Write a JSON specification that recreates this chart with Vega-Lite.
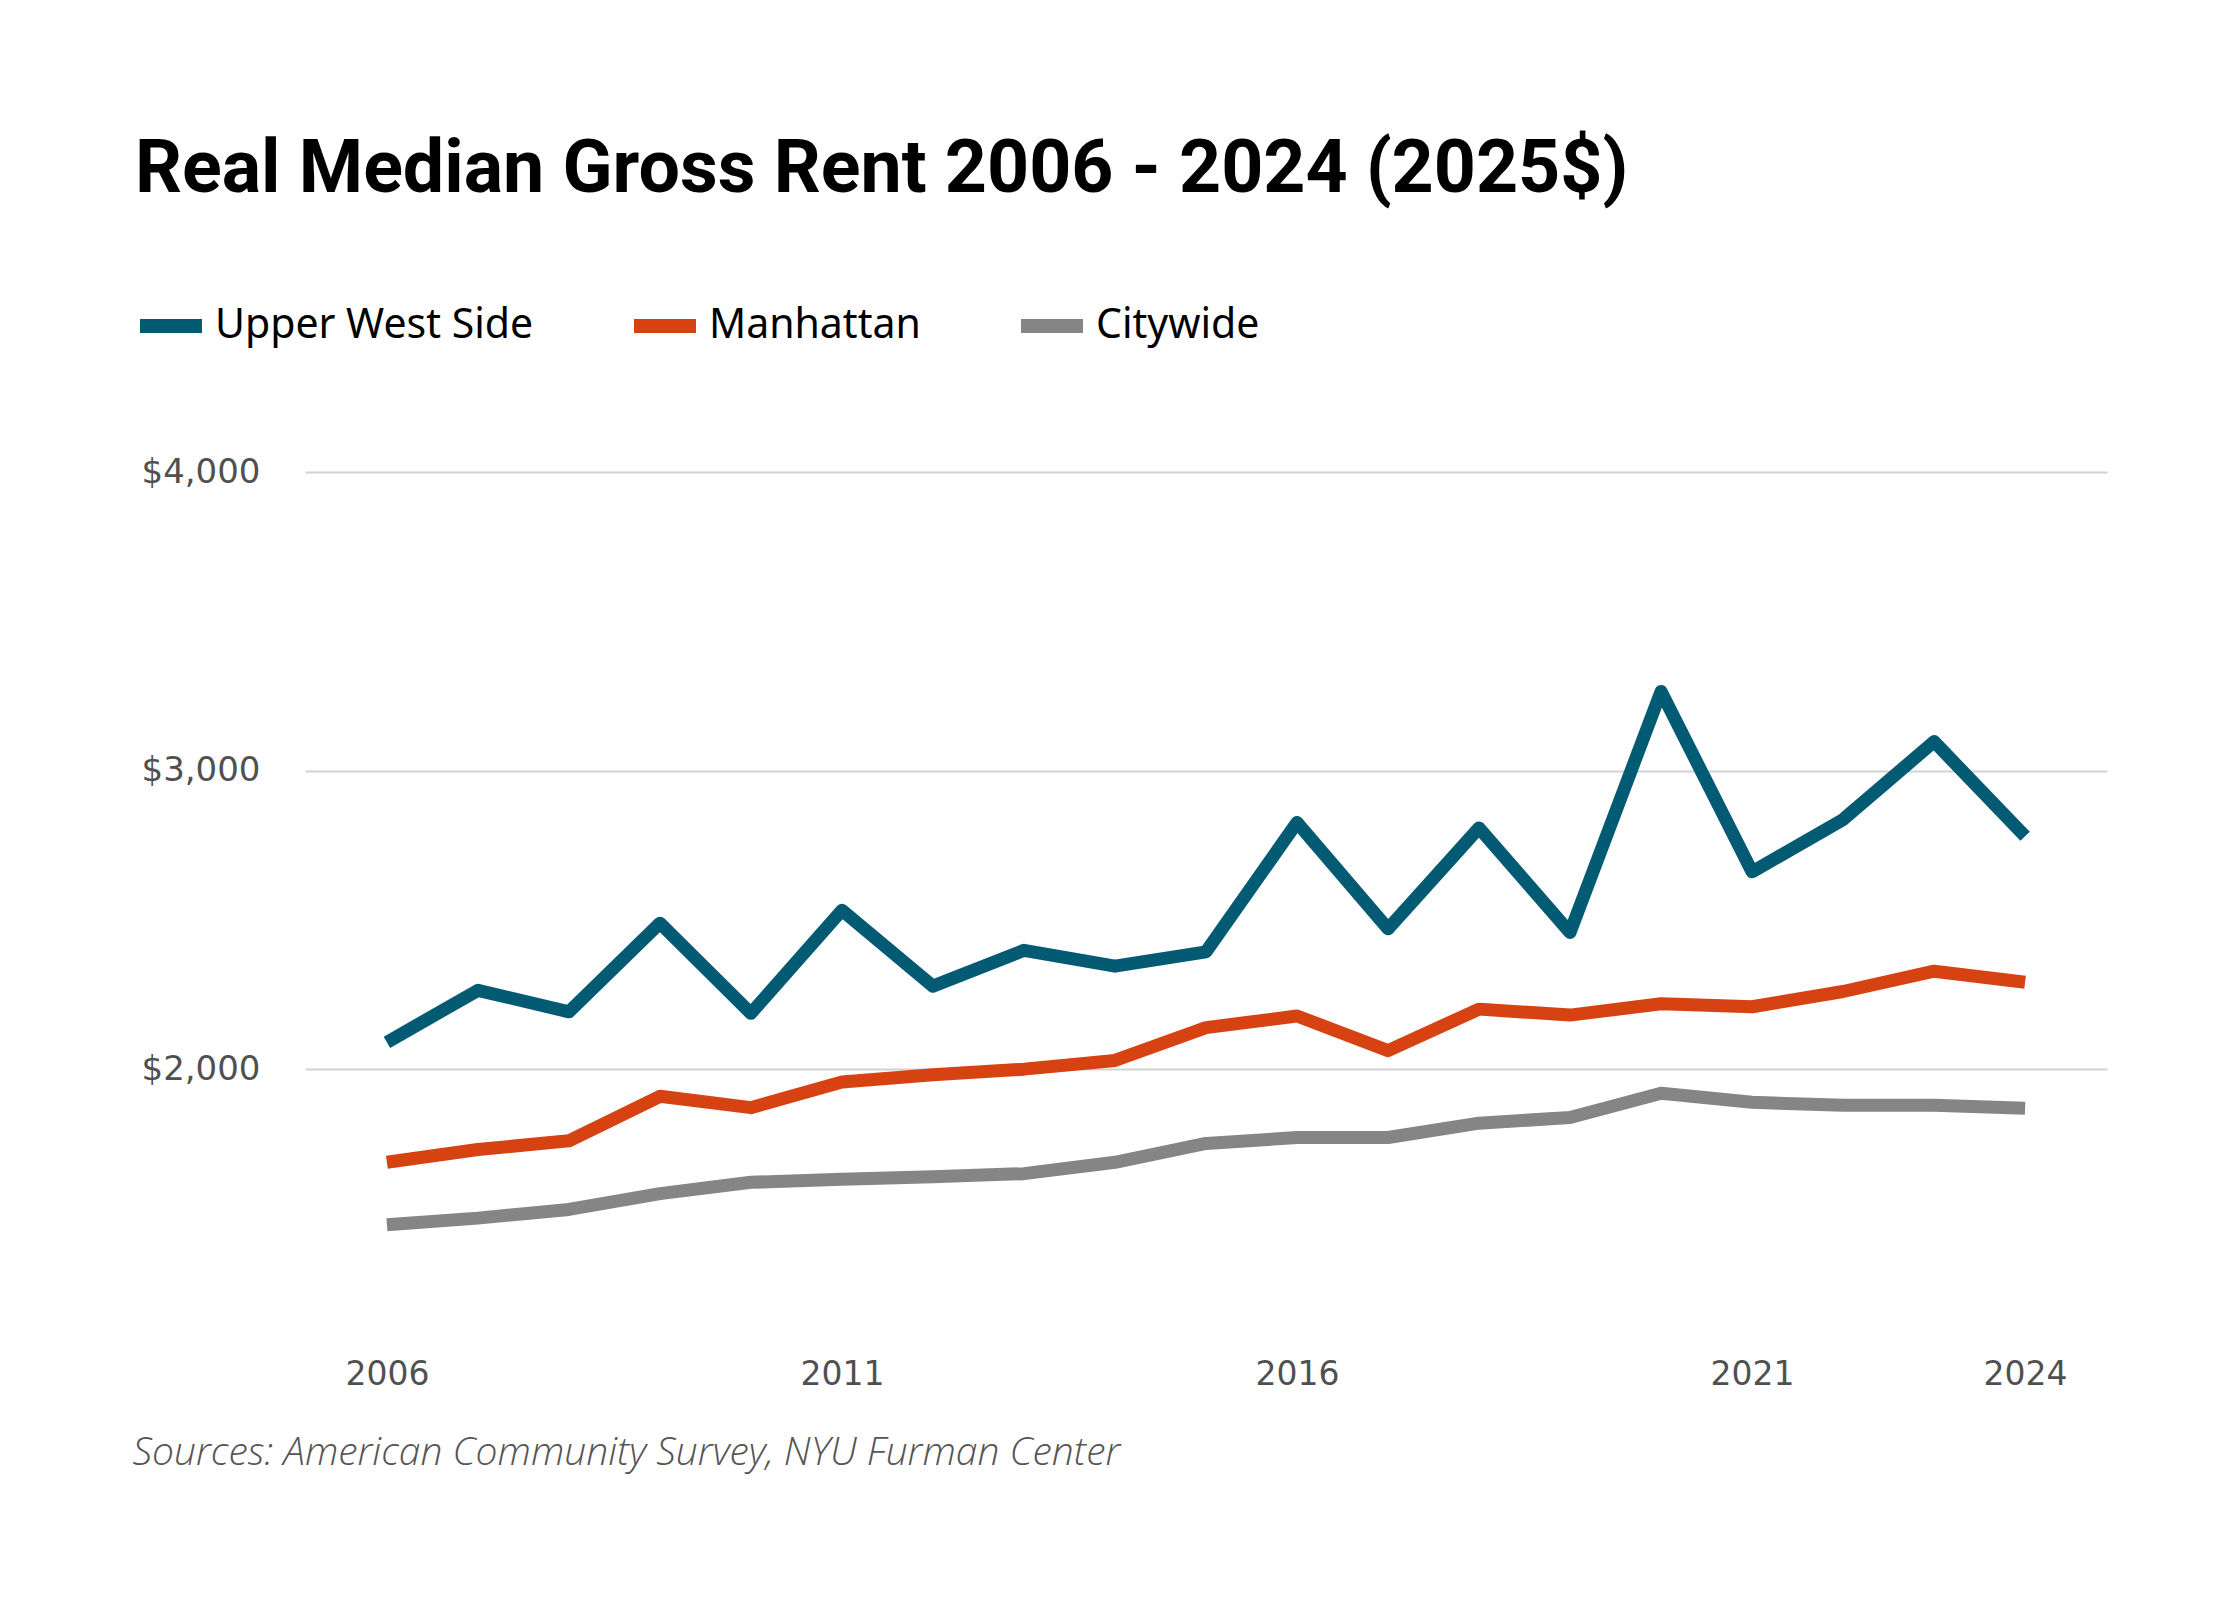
{
  "$schema": "https://vega.github.io/schema/vega-lite/v6.json",
  "autosize": "none",
  "width": 1802,
  "height": 836,
  "padding": {"left": 305, "top": 472, "right": 133, "bottom": 292},
  "background": "white",
  "title": {
    "text": "Real Median Gross Rent 2006 - 2024 (2025$)",
    "anchor": "start",
    "frame": "group",
    "dx": -170,
    "offset": 23,
    "baseline": "alphabetic",
    "font": "Roboto",
    "fontSize": 73.5,
    "fontWeight": "bold",
    "color": "#000000"
  },
  "data": {
    "values": [
      {"year": 2006, "area": "Upper West Side", "rent": 2090},
      {"year": 2007, "area": "Upper West Side", "rent": 2264},
      {"year": 2008, "area": "Upper West Side", "rent": 2192},
      {"year": 2009, "area": "Upper West Side", "rent": 2489},
      {"year": 2010, "area": "Upper West Side", "rent": 2187},
      {"year": 2011, "area": "Upper West Side", "rent": 2532},
      {"year": 2012, "area": "Upper West Side", "rent": 2278},
      {"year": 2013, "area": "Upper West Side", "rent": 2398},
      {"year": 2014, "area": "Upper West Side", "rent": 2345},
      {"year": 2015, "area": "Upper West Side", "rent": 2393},
      {"year": 2016, "area": "Upper West Side", "rent": 2826},
      {"year": 2017, "area": "Upper West Side", "rent": 2470},
      {"year": 2018, "area": "Upper West Side", "rent": 2808},
      {"year": 2019, "area": "Upper West Side", "rent": 2458},
      {"year": 2020, "area": "Upper West Side", "rent": 3265},
      {"year": 2021, "area": "Upper West Side", "rent": 2661},
      {"year": 2022, "area": "Upper West Side", "rent": 2836},
      {"year": 2023, "area": "Upper West Side", "rent": 3097},
      {"year": 2024, "area": "Upper West Side", "rent": 2780},
      {"year": 2006, "area": "Manhattan", "rent": 1688},
      {"year": 2007, "area": "Manhattan", "rent": 1731},
      {"year": 2008, "area": "Manhattan", "rent": 1760},
      {"year": 2009, "area": "Manhattan", "rent": 1909},
      {"year": 2010, "area": "Manhattan", "rent": 1871},
      {"year": 2011, "area": "Manhattan", "rent": 1957},
      {"year": 2012, "area": "Manhattan", "rent": 1981},
      {"year": 2013, "area": "Manhattan", "rent": 2000},
      {"year": 2014, "area": "Manhattan", "rent": 2029},
      {"year": 2015, "area": "Manhattan", "rent": 2139},
      {"year": 2016, "area": "Manhattan", "rent": 2178},
      {"year": 2017, "area": "Manhattan", "rent": 2062},
      {"year": 2018, "area": "Manhattan", "rent": 2201},
      {"year": 2019, "area": "Manhattan", "rent": 2181},
      {"year": 2020, "area": "Manhattan", "rent": 2219},
      {"year": 2021, "area": "Manhattan", "rent": 2209},
      {"year": 2022, "area": "Manhattan", "rent": 2260},
      {"year": 2023, "area": "Manhattan", "rent": 2328},
      {"year": 2024, "area": "Manhattan", "rent": 2291},
      {"year": 2006, "area": "Citywide", "rent": 1479},
      {"year": 2007, "area": "Citywide", "rent": 1501},
      {"year": 2008, "area": "Citywide", "rent": 1530},
      {"year": 2009, "area": "Citywide", "rent": 1583},
      {"year": 2010, "area": "Citywide", "rent": 1621},
      {"year": 2011, "area": "Citywide", "rent": 1631},
      {"year": 2012, "area": "Citywide", "rent": 1640},
      {"year": 2013, "area": "Citywide", "rent": 1650},
      {"year": 2014, "area": "Citywide", "rent": 1688},
      {"year": 2015, "area": "Citywide", "rent": 1751},
      {"year": 2016, "area": "Citywide", "rent": 1771},
      {"year": 2017, "area": "Citywide", "rent": 1771},
      {"year": 2018, "area": "Citywide", "rent": 1819},
      {"year": 2019, "area": "Citywide", "rent": 1838},
      {"year": 2020, "area": "Citywide", "rent": 1919},
      {"year": 2021, "area": "Citywide", "rent": 1889},
      {"year": 2022, "area": "Citywide", "rent": 1879},
      {"year": 2023, "area": "Citywide", "rent": 1879},
      {"year": 2024, "area": "Citywide", "rent": 1869}
    ]
  },
  "mark": {"type": "line", "strokeWidth": 13, "strokeJoin": "round", "strokeCap": "butt"},
  "encoding": {
    "x": {
      "field": "year",
      "type": "quantitative",
      "scale": {"domain": [2005.1, 2024.9], "nice": false, "zero": false},
      "axis": {
        "values": [2006, 2011, 2016, 2021, 2024],
        "format": "d",
        "grid": false,
        "domain": false,
        "ticks": false,
        "tickSize": 0,
        "labelPadding": 76,
        "labelBaseline": "alphabetic",
        "labelFont": "DejaVu Sans",
        "labelFontSize": 33,
        "labelColor": "#505050",
        "labelFlush": false,
        "labelOverlap": false,
        "title": "Sources: American Community Survey, NYU Furman Center",
        "titleFont": "Open Sans",
        "titleFontSize": 39,
        "titleFontStyle": "italic",
        "titleFontWeight": 300,
        "titleColor": "#555555",
        "titleAnchor": "start",
        "titleAlign": "left",
        "titleBaseline": "alphabetic",
        "titleX": -173,
        "titleY": 156
      }
    },
    "y": {
      "field": "rent",
      "type": "quantitative",
      "scale": {"domain": [1200, 4000], "nice": false, "zero": false},
      "axis": {
        "values": [2000, 3000, 4000],
        "format": "$,.0f",
        "title": null,
        "domain": false,
        "ticks": false,
        "tickSize": 0,
        "labelPadding": 45,
        "labelFont": "DejaVu Sans",
        "labelFontSize": 34,
        "labelColor": "#505050",
        "labelBaseline": "middle",
        "grid": true,
        "gridColor": "#d2d2d2",
        "gridWidth": 2
      }
    },
    "color": {
      "field": "area",
      "type": "nominal",
      "sort": ["Upper West Side", "Manhattan", "Citywide"],
      "scale": {
        "domain": ["Upper West Side", "Manhattan", "Citywide"],
        "range": ["#035a73", "#d64212", "#858585"]
      },
      "legend": {
        "title": null,
        "orient": "none",
        "direction": "horizontal",
        "legendX": -172,
        "legendY": -184,
        "symbolType": "stroke",
        "symbolSize": 3844,
        "symbolStrokeWidth": 14,
        "labelFont": "Noto Sans",
        "labelFontSize": 41,
        "labelColor": "#000000",
        "labelOffset": 6,
        "labelLimit": 0,
        "columnPadding": 72
      }
    }
  },
  "config": {
    "view": {"stroke": null}
  }
}
